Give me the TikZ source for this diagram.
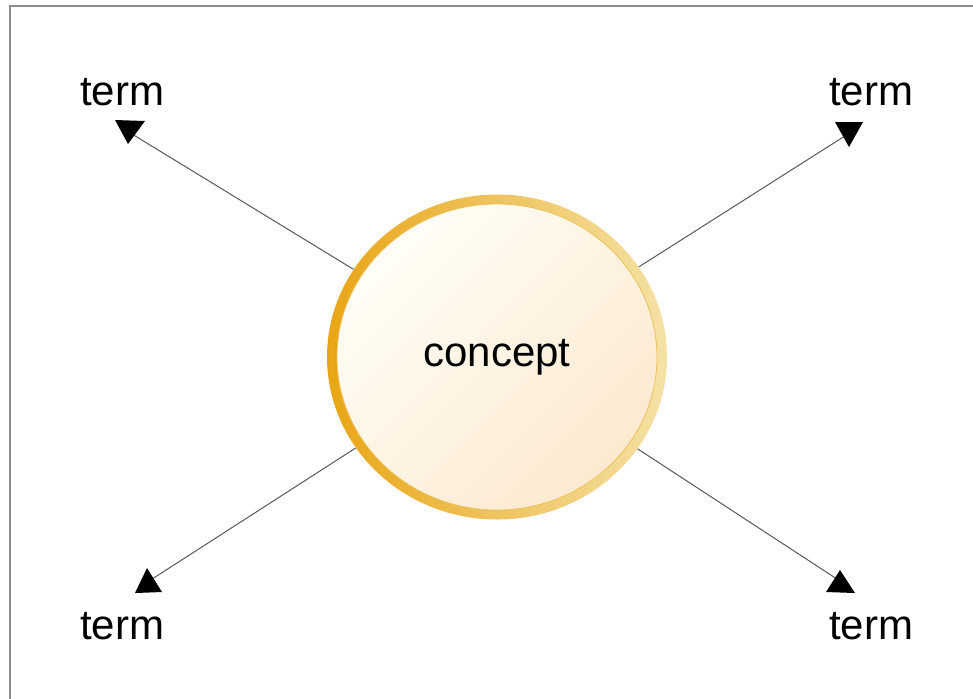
\documentclass[tikz,border=0pt]{standalone}
\usepackage{fontspec}
\setmainfont{Liberation Sans}
\usetikzlibrary{shapes.geometric}
\definecolor{framec}{HTML}{8C8C8C}
\definecolor{ringL}{HTML}{E9A516}
\definecolor{ringR}{HTML}{F5E2A6}
\definecolor{innerA}{HTML}{FFFEF6}
\definecolor{innerB}{HTML}{FCE9D0}
\definecolor{innerline}{HTML}{EDC25A}
\begin{document}
\begin{tikzpicture}[x=0.5pt,y=-0.5pt,
  lbl/.style={font=\fontsize{21}{25}\selectfont, inner sep=0pt},
  link/.style={draw=black!65, line width=0.5pt},
  tip/.style={fill=black}]
\useasboundingbox (0,0) rectangle (973,698);
\clip (0,0) rectangle (973,698);
\fill[white] (0,0) rectangle (973,698);
\draw[framec, line width=1pt] (10,6) rectangle (995,720);
% concept
\node[ellipse, minimum width=170pt, minimum height=162.5pt, inner sep=0pt,
      left color=ringL, right color=ringR] (concept) at (497,357) {};
\node[ellipse, minimum width=160pt, minimum height=153pt, inner sep=0pt,
      draw=innerline, line width=0.4pt,
      top color=innerA, bottom color=innerB, shading angle=45,
      lbl] (inner) at (497,357) {concept};
% terms
\node[lbl] (t1) at (122,92) {term};
\node[lbl] (t2) at (871,92) {term};
\node[lbl] (t3) at (122,626) {term};
\node[lbl] (t4) at (871,626) {term};
% arrow ends
\coordinate (a1) at (132,134);
\coordinate (a2) at (848,134);
\coordinate (a3) at (149,581);
\coordinate (a4) at (840,581);
\draw[link] (concept) -- (a1);
\draw[link] (concept) -- (a2);
\draw[link] (concept) -- (a3);
\draw[link] (concept) -- (a4);
% arrowheads
\fill[tip] (115,120) -- (145,121) -- (128,144) -- cycle;
\fill[tip] (835,122) -- (863,122) -- (849,147) -- cycle;
\fill[tip] (147,568) -- (135,593) -- (162,592) -- cycle;
\fill[tip] (840,570) -- (826,592) -- (855,593) -- cycle;
\end{tikzpicture}
\end{document}
